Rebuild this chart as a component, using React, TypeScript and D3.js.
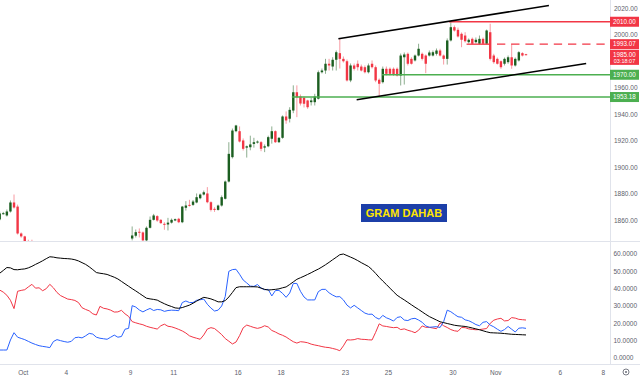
import React from 'react';
import * as d3 from 'd3';

const W = 640;
const H = 377;

// 4-hour bars, index 0 = first bar at the left edge
const opens = [1860.8,1865.3,1863.8,1866.8,1873.6,1870.5,1850.2,1848,1842,1838,
 1833,1829,1825,1828,1824,1822,1824,1826,1823,1821,1819,1822,1824,1821,1823,1820,1822,1820,1818,1820,1822,1824,1823,1821,1816,1828,1832,
 1846.4,1848.5,1851.5,1851,1845,1854.5,1860.5,1863.3,1860.5,1857.5,1857,1858.4,1860,1861.3,1858.7,1869.6,1871.8,1871.8,1873.6,1876.8,1879.6,1880.4,1873.8,1868.8,1868,
 1871.3,1876.4,1889.4,
 1907.8,1927.4,1927.4,1920.4,1915,1915.3,1917.8,1918.8,1919.1,1915,1916,1921.7,1927.4,1919.1,1922.4,1938.5,1936.8,1943,1956.8,
 1953.6,1952.6,1950.6,1949.3,1949.3,1951.9,1971.9,1973.2,1978.3,1976.2,1981.3,1986.3,1982,1980.2,1965.7,1977,1978.3,1976.2,1975.7,1971.9,
 1978.3,1975.7,1966.2,1964.4,1974.5,1974.5,1974.5,1974.5,1969.4,1983.2,1985.8,1982,1980.8,1984.5,1985.8,1984.5,1984.5,1984.5,1985.8,1988.3,
 1984.5,1982,1995.9,2005.9,2003.9,2000.9,1999.6,1994.6,1997.1,1994.6,1993.4,1997.1,1993.4,2002.1,1984.5,1982,1980.2,1978.3,1979.5,1983.2,
 1977,1980.8,1986.3,1985.5];
const highs = [1866.8,1866.5,1868.3,1875.1,1879.6,1872,1851,1848.5,1845.5,1845.5,
 1836,1832,1830,1831,1827,1826,1828,1829,1827,1825,1824,1826,1827,1825,1826,1824,1825,1823,1822,1824,1826,1827,1826,1824,1830,1834,1835,
 1855.5,1853.2,1854,1851.7,1855.5,1863,1865,1864,1861,1858.7,1862,1861.5,1861.5,1862,1871,1874.6,1875.6,1875.5,1880.4,1880.4,1882.6,1885.2,1874.5,1870,1872,
 1878.9,1890.2,1919.1,
 1929.4,1932.2,1931,1921.9,1916.6,1924,1922.4,1920.4,1920,1917.4,1924,1931,1928,1923,1939.3,1942.3,1945.5,1962,1962,
 1955.1,1953.6,1951.1,1952.6,1955.6,1973.2,1974.7,1982,1982,1983.2,1988.3,1997.1,1983.8,1981.5,1978.5,1978.5,1980.8,1977.7,1977,1978.5,
 1980.8,1977,1967.2,1976.2,1976.2,1975.5,1975.5,1975.5,1986,1986.8,1986.8,1983.2,1985.3,1993.4,1986.8,1985.3,1988.3,1988.3,1989.8,1989.6,
 1985.3,1997.4,2010.2,2007.2,2005.6,2001.9,2002.1,1997.4,1998.1,1998.1,1999.6,1998.1,2004.1,2008.5,1985.8,1983,1980.8,1983,1984.5,1993.4,
 1983,1987.8,1987,1985.8];
const lows = [1860,1864.5,1863,1866,1869,1849.4,1847,1840,1835,1830,
 1826,1823,1822,1823,1820,1818,1821,1822,1819,1816,1815,1819,1820,1818,1819,1816,1818,1816,1815,1817,1819,1821,1819,1811,1813,1825,1829,
 1845,1847.2,1847.2,1844,1844,1854,1860,1859,1857.5,1853,1852.5,1857.7,1859.5,1858,1858,1867.5,1870.5,1871,1873,1876,1878.9,1873,1866.8,1866.5,1867.5,
 1870.5,1875.9,1888.7,
 1906.8,1926.6,1918.9,1912.8,1907.5,1913,1915,1918.1,1912.3,1911.6,1915.3,1918,1918.5,1918.5,1921.7,1933,1934,1941,1938,
 1946.8,1945.3,1944.3,1946.8,1946.8,1951.3,1971,1970.7,1973.2,1973.2,1973.2,1974.7,1979.2,1964.9,1964.4,1973.2,1973.2,1972.5,1971,1971,
 1974.7,1964.4,1953.6,1963.4,1969.4,1969.4,1969.1,1968.7,1961.9,1962.6,1977,1977.7,1980,1983.8,1980.8,1971.2,1983.8,1983.8,1984.5,1983.8,
 1977.7,1977.7,1995.1,2002.6,1998.1,1990.8,1994.3,1993.6,1992.8,1993.6,1992.8,1992.8,1992.8,1980.8,1978.3,1977.7,1974.5,1977,1978.3,1974.5,
 1976.2,1980,1983.8,1984.6];
const closes = [1865.3,1865.5,1866.8,1873.6,1869.8,1850.2,1848,1842,1838,1833,
 1829,1825,1828,1824,1822,1824,1826,1823,1821,1819,1822,1824,1821,1823,1820,1822,1820,1818,1820,1822,1824,1823,1821,1816,1828,1832,1833,
 1848.7,1851.2,1850.8,1845,1854.5,1860.5,1863.8,1860,1858,1856.8,1858.4,1860.5,1861,1858.7,1870.5,1871.3,1871.1,1874.3,1877.6,1879.6,1881.3,1873.8,1868,1868,1871.3,
 1877.6,1889.4,1910.3,
 1927.9,1931.7,1919.6,1914.1,1916,1917.4,1919.1,1919.6,1914.1,1916,1922.9,1927.4,1919.1,1922.4,1938.5,1935.5,1943.5,1956.8,1953,
 1948.3,1948.1,1945.5,1950.6,1953.6,1971.9,1973.2,1978.3,1977,1981.3,1987,1982,1980.2,1965.7,1977,1974.5,1975.7,1973.2,1971.9,1977,
 1975.7,1965.7,1963.2,1974.5,1970.7,1970.7,1970.2,1969.4,1984.5,1985.3,1978.3,1978.3,1984.5,1989.6,1982,1978.3,1986.8,1987,1988.3,1984.5,
 1982,1995.9,2005.9,2003.4,1998.9,1996.4,1995.3,1996.4,1993.4,1996.4,1997.1,1993.4,2003.4,1982,1979.5,1978.3,1975.7,1982,1983.2,1977,
 1982,1987,1984.5,1985.0];

// DMI indicator, one value per bar
const adx = [48.9,50.5,52.2,52.0,51.0,50.9,51.2,51.4,52.0,52.9,54.0,55.0,56.1,57.3,58.4,58.2,57.8,57.6,57.4,57.3,
 57.1,56.7,56.0,55.0,54.0,52.6,51.0,49.3,48.9,48.6,48.2,47.4,46.6,45.6,44.2,42.8,41.4,40.0,38.7,37.3,
 35.9,34.5,34.1,33.8,33.4,32.3,31.3,30.4,29.7,28.9,28.7,29.1,29.8,30.5,31.6,32.8,34.0,35.0,34.6,34.1,
 33.3,32.4,32.4,33.1,35.2,37.8,40.6,41.1,41.1,41.1,41.1,41.1,41.0,40.3,39.6,39.2,39.4,39.6,39.9,40.5,
 41.0,42.4,43.9,45.4,46.3,47.2,48.2,49.2,50.3,51.3,52.5,53.8,55.2,56.7,58.1,59.6,60.0,59.1,58.2,57.3,
 56.2,55.0,53.9,52.8,51.0,48.8,46.5,44.4,42.4,40.3,38.2,36.2,34.8,33.5,32.1,30.7,29.3,28.0,26.6,25.2,
 23.9,22.9,21.9,20.9,20.4,19.9,19.4,18.9,18.6,18.4,18.2,17.8,17.3,16.8,16.3,15.7,15.1,14.6,14.5,14.4,
 14.3,14.1,13.9,13.7,13.6,13.5,13.4,13.3];
const plusDI = [4.6,4.6,4.6,10.4,14.6,12.0,11.3,10.6,9.6,8.6,7.8,7.1,6.7,6.4,6.0,9.5,10.6,10.0,9.5,9.1,
 9.6,11.7,12.0,11.6,12.8,14.2,13.8,12.0,11.4,11.1,10.8,12.0,13.2,12.0,12.4,16.6,17.1,30.2,29.4,27.7,
 26.6,27.7,28.6,27.4,28.0,27.8,26.9,27.4,27.6,27.5,27.3,32.0,32.9,32.0,32.0,33.3,33.6,34.0,31.0,28.8,
 27.1,27.6,30.0,35.5,50.0,51.0,51.2,48.3,45.0,43.3,41.5,41.3,42.4,40.4,39.4,39.6,35.8,38.9,39.0,37.3,
 35.0,37.5,43.0,43.0,38.5,35.2,33.5,33.5,33.5,38.3,39.6,39.6,37.6,36.3,35.3,35.4,33.5,30.5,28.9,30.4,
 28.9,27.4,25.9,25.2,25.3,23.4,22.4,24.6,23.2,22.4,21.3,23.4,23.8,21.9,21.6,22.6,22.9,21.9,20.6,18.5,
 17.7,17.9,18.1,17.6,21.0,27.6,26.7,25.2,23.8,23.5,22.0,21.5,20.5,19.3,18.6,20.6,21.0,19.0,18.0,16.6,
 15.4,16.4,18.2,16.6,15.0,17.2,17.4,17.1];
const minusDI = [39.2,38.0,36.2,33.3,28.5,38.5,39.0,39.4,41.0,42.5,40.3,40.5,38.8,40.0,42.5,40.5,37.8,36.0,35.0,34.0,
 33.7,33.2,32.0,29.0,28.0,27.2,25.5,24.8,29.8,28.7,28.3,27.6,26.5,26.6,27.5,25.5,24.0,21.0,20.3,19.7,
 19.2,18.3,17.7,17.2,16.7,18.6,19.5,18.3,18.0,17.3,16.5,15.6,14.4,12.8,12.0,11.4,10.8,13.3,16.7,17.5,
 17.0,15.3,13.5,11.2,9.7,8.1,9.2,12.9,17.4,19.0,18.3,17.6,17.1,17.6,18.6,17.9,15.9,15.0,13.9,13.1,
 12.1,10.7,9.4,8.6,9.4,9.2,8.8,8.0,7.5,7.1,6.6,6.2,6.0,5.5,5.0,4.2,7.0,10.5,10.4,10.6,
 11.2,10.8,10.7,10.5,10.4,14.8,19.7,18.5,18.2,17.8,17.5,17.7,16.4,16.8,16.0,15.4,14.6,16.0,18.5,17.7,
 17.7,17.3,16.9,20.2,18.6,17.6,16.4,15.7,15.4,17.6,17.5,16.8,16.5,16.3,16.4,16.7,17.0,20.0,21.8,22.5,
 22.9,21.4,21.6,23.3,23.0,22.3,22.1,21.9];

// 1980.00 is hidden behind the last-price box in the reference
const priceTicks = [2020, 2000, 1960, 1940, 1920, 1900, 1880, 1860];
const dmiTicks = [0, 10, 20, 30, 40, 50, 60];
const timeLabels = ['Oct', '4', '9', '11', '16', '18', '23', '25', '30', 'Nov', '6', '8'];
const timeLabelBars = [7, 19, 37, 49, 67, 79, 97, 109, 127, 139, 157, 169];

// drawings in (bar, price)
const channelTop = [[94.6, 1997.1], [153.4, 2022.3]];
const channelBottom = [[99.7, 1951.1], [163.8, 1978.5]];
const resistanceLevel = 2010.0;
const resistanceStart = 125.5;
const dashedLevel = 1993.07;
const dashedSolidRange = [130.4, 136.7];
const dashedStart = 138.9;
const supportLevels = [1970.0, 1953.18];
const supportStarts = [106.8, 81.6];
const lastPrice = 1985.0;
const countdown = '03:18:07';
const title = 'GRAM DAHAB';

const FONT = 'Liberation Sans, Arial, sans-serif';
const UP = '#1b5e20';
const DOWN = '#f23645';
const GREEN = '#4caf50';
const AXIS_TEXT = '#5d606b';
const BORDER = '#e0e3eb';

export default function App() {
  const axisX = 610;
  const x = d3.scaleLinear().domain([0, 147]).range([-0.3, 526]);
  const y = d3.scaleLinear().domain([1860, 2020]).range([220.5, 8.5]);
  const yi = d3.scaleLinear().domain([0, 60]).range([358, 254]);
  const line = d3.line<number>().x((_, i) => x(i)).y((d) => yi(d));
  const bw = 2.4;

  const candles = opens.map((o, i) => {
    const c = closes[i];
    const up = c >= o;
    const col = up ? UP : DOWN;
    const yTop = y(Math.max(o, c));
    const yBot = y(Math.min(o, c));
    const h = Math.max(1, yBot - yTop);
    return (
      <g key={i}>
        <line x1={x(i)} x2={x(i)} y1={y(highs[i])} y2={y(lows[i])} stroke={col} strokeOpacity={0.5} strokeWidth={1} />
        <rect x={x(i) - bw / 2} y={yTop} width={bw} height={h} fill={col} />
      </g>
    );
  });

  const boxW = 29;
  const priceBox = (p: number, label: string, color: string, key: string) => (
    <g key={key}>
      <rect x={axisX} y={y(p) - 5} width={boxW} height={10} fill={color} />
      <text x={axisX + boxW / 2} y={y(p) + 2.3} textAnchor="middle" fontSize={6.3} fill="#fff" fontFamily={FONT}>{label}</text>
    </g>
  );

  return (
    <svg width={W} height={H} style={{ position: 'fixed', left: 0, top: 0, background: '#fff' }}>
      <defs>
        <clipPath id="pp"><rect x={0} y={0} width={axisX} height={241} /></clipPath>
        <clipPath id="ip"><rect x={0} y={242} width={axisX} height={122} /></clipPath>
      </defs>
      <rect x={0} y={0} width={W} height={H} fill="#fff" />

      {/* price pane */}
      <g clipPath="url(#pp)">
        {candles}
        {supportLevels.map((lv, k) => (
          <line key={'s' + k} x1={x(supportStarts[k])} x2={axisX} y1={y(lv)} y2={y(lv)} stroke={GREEN} strokeWidth={1.5} />
        ))}
        <line x1={x(resistanceStart)} x2={axisX} y1={y(resistanceLevel)} y2={y(resistanceLevel)} stroke={DOWN} strokeWidth={1.5} />
        <line x1={x(dashedSolidRange[0])} x2={x(dashedSolidRange[1])} y1={y(dashedLevel)} y2={y(dashedLevel)} stroke={DOWN} strokeWidth={1.3} />
        <line x1={x(dashedStart)} x2={axisX} y1={y(dashedLevel)} y2={y(dashedLevel)} stroke={DOWN} strokeWidth={1.3} strokeDasharray="8.3 5.9" />
        {[channelTop, channelBottom].map((ln, k) => (
          <line key={'c' + k} x1={x(ln[0][0])} y1={y(ln[0][1])} x2={x(ln[1][0])} y2={y(ln[1][1])} stroke="#000" strokeWidth={1.5} />
        ))}
        <rect x={361} y={204} width={86} height={18} fill="#1c3fa8" />
        <text x={404} y={217} textAnchor="middle" fontSize={11} fontWeight="bold" fill="#ffe600" fontFamily={FONT}>{title}</text>
      </g>

      {/* indicator pane */}
      <g clipPath="url(#ip)" fill="none" strokeWidth={1}>
        <path d={line(minusDI) || ''} stroke="#f23645" fill="none" />
        <path d={line(plusDI) || ''} stroke="#2962ff" fill="none" />
        <path d={line(adx) || ''} stroke="#000" fill="none" />
      </g>

      {/* borders */}
      <line x1={0} x2={W} y1={241.5} y2={241.5} stroke={BORDER} />
      <line x1={axisX + 0.5} x2={axisX + 0.5} y1={0} y2={364} stroke={BORDER} />
      <line x1={0} x2={W} y1={364.5} y2={364.5} stroke={BORDER} />

      {/* price axis */}
      {priceTicks.map((t) => (
        <text key={'p' + t} x={axisX + 4} y={y(t) + 2.3} fontSize={6.5} fill={AXIS_TEXT} fontFamily={FONT}>{t.toFixed(2)}</text>
      ))}
      {priceBox(resistanceLevel, resistanceLevel.toFixed(2), DOWN, 'b1')}
      {priceBox(dashedLevel, dashedLevel.toFixed(2), DOWN, 'b2')}
      {priceBox(supportLevels[0], supportLevels[0].toFixed(2), GREEN, 'b3')}
      {priceBox(supportLevels[1], supportLevels[1].toFixed(2), GREEN, 'b4')}
      <g>
        <rect x={axisX} y={y(lastPrice) - 5} width={boxW} height={15} fill={DOWN} />
        <text x={axisX + boxW / 2} y={y(lastPrice) + 2.3} textAnchor="middle" fontSize={6.3} fill="#fff" fontFamily={FONT}>{lastPrice.toFixed(2)}</text>
        <text x={axisX + boxW / 2} y={y(lastPrice) + 8.2} textAnchor="middle" fontSize={5.5} fill="#fff" fontFamily={FONT}>{countdown}</text>
      </g>

      {/* dmi axis */}
      {dmiTicks.map((t) => (
        <text key={'d' + t} x={axisX + 3.5} y={yi(t) + 2.3} fontSize={6.5} fill={AXIS_TEXT} fontFamily={FONT}>{t.toFixed(4)}</text>
      ))}

      {/* time axis */}
      {timeLabels.map((l, k) => (
        <text key={'t' + k} x={x(timeLabelBars[k]) - 1.5} y={374.5} textAnchor="middle" fontSize={6.5} fill={AXIS_TEXT} fontFamily={FONT}>{l}</text>
      ))}
      <circle cx={626} cy={372} r={3} fill="none" stroke="#6a6d78" strokeWidth={0.9} />
      <circle cx={626} cy={372} r={1} fill="#6a6d78" />
    </svg>
  );
}
